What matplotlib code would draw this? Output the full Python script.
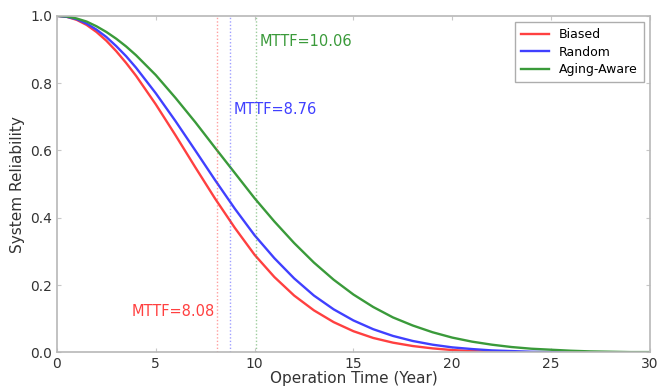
import matplotlib

matplotlib.use("Agg")
import matplotlib.pyplot as plt


# reliability (denser points near the flat top)
years_biased = [0, 0.5, 1, 1.5, 2, 2.5, 3, 3.5] + list(range(4, 25))
rel_biased = [
    1.0, 0.997, 0.988, 0.973, 0.952, 0.926, 0.895, 0.860,
    0.822, 0.737, 0.645, 0.550, 0.457, 0.370,
    0.290, 0.224, 0.169, 0.125, 0.090, 0.063, 0.043, 0.029, 0.019, 0.012,
    0.007, 0.004, 0.002, 0.001, 0.0,
]

years_random = [0, 0.5, 1, 1.5, 2, 2.5, 3, 3.5] + list(range(4, 27))
rel_random = [
    1.0, 0.997, 0.990, 0.977, 0.959, 0.937, 0.910, 0.880,
    0.846, 0.770, 0.687, 0.600, 0.512, 0.427,
    0.348, 0.280, 0.220, 0.169, 0.128, 0.095, 0.069, 0.049, 0.034, 0.023,
    0.015, 0.010, 0.006, 0.004, 0.002, 0.001, 0.0,
]

years_aging = [0, 0.5, 1, 1.5, 2, 2.5, 3, 3.5] + list(range(4, 31))
rel_aging = [
    1.0, 0.998, 0.992, 0.983, 0.969, 0.952, 0.932, 0.909,
    0.883, 0.824, 0.756, 0.684, 0.608, 0.533,
    0.458, 0.389, 0.325, 0.267, 0.216, 0.172, 0.135, 0.104, 0.080, 0.060,
    0.044, 0.032, 0.023, 0.016, 0.011, 0.008, 0.005, 0.003, 0.002, 0.001,
    0.001,
]

labels = ["Biased", "Random", "Aging-Aware"]
mttf = [8.08, 8.76, 10.06]
colors = ["#ff4040", "#4040ff", "#3a9a3a"]
text_pos = [(3.8, 0.10), (8.95, 0.70), (10.25, 0.90)]


def main():
    fig = plt.figure(figsize=(6.7, 3.86), dpi=100)
    ax = fig.add_axes([0.085, 0.087, 0.885, 0.872])

    series = [
        (years_biased, rel_biased),
        (years_random, rel_random),
        (years_aging, rel_aging),
    ]
    for (xs, ys), lab, c in zip(series, labels, colors):
        ax.plot(xs, ys, color=c, lw=1.7, label=lab)

    for m, c, (tx, ty) in zip(mttf, colors, text_pos):
        ax.axvline(m, color=c, lw=1.0, ls=(0, (1, 1.5)), alpha=0.5)
        ax.text(tx, ty, f"MTTF={m:.2f}", color=c, fontsize=10.5,
                ha="left", va="bottom")

    ax.set_xlim(0, 30)
    ax.set_ylim(0, 1.0)
    ax.set_xticks([0, 5, 10, 15, 20, 25, 30])
    ax.set_yticks([0.0, 0.2, 0.4, 0.6, 0.8, 1.0])
    ax.set_yticklabels(["0.0", "0.2", "0.4", "0.6", "0.8", "1.0"])

    for sp in ax.spines.values():
        sp.set_color("#b8b8b8")
        sp.set_linewidth(1.2)
    ax.tick_params(direction="in", length=3, color="#c8c8c8",
                   labelcolor="#333333", labelsize=10,
                   top=True, right=True)

    ax.set_xlabel("Operation Time (Year)", fontsize=11, color="#333333",
                  labelpad=0)
    ax.set_ylabel("System Reliability", fontsize=11, color="#333333")

    leg = ax.legend(loc="upper right", fontsize=9, fancybox=False,
                    handlelength=2.2, borderpad=0.5, labelspacing=0.35)
    leg.get_frame().set_edgecolor("#999999")

    fig.savefig("out.png", dpi=100)
    plt.close(fig)


if __name__ == "__main__":
    main()
